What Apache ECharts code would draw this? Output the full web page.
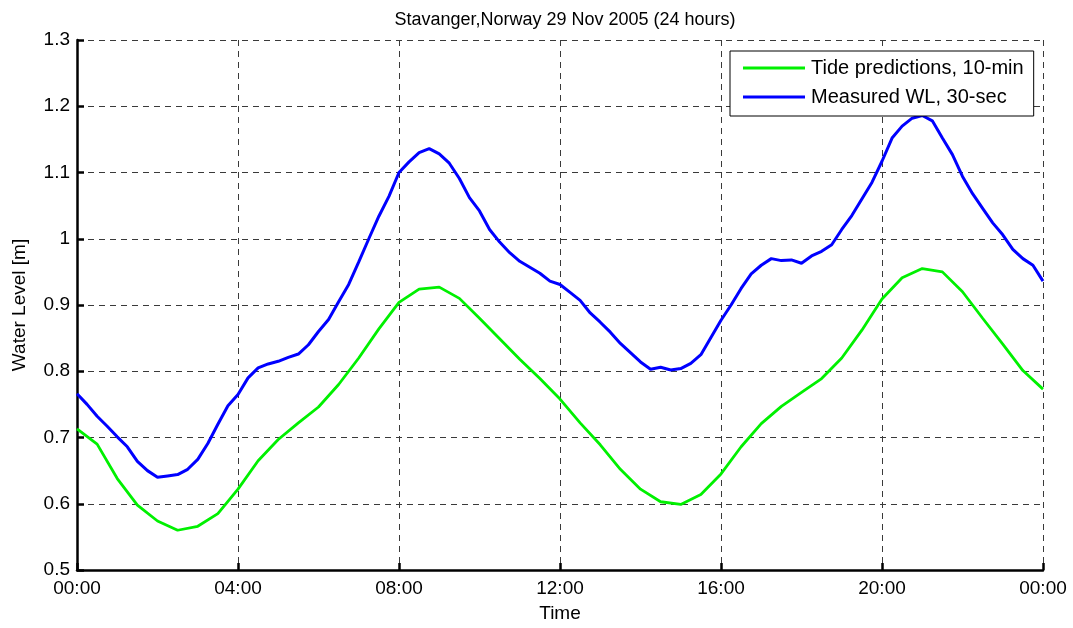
<!DOCTYPE html>
<html>
<head>
<meta charset="utf-8">
<script src="https://cdn.jsdelivr.net/npm/echarts@6/dist/echarts.min.js"></script>
<style>
  html, body { margin: 0; padding: 0; background: #fff; }
  #chart { width: 1073px; height: 628px; }
</style>
</head>
<body>
<div id="chart"></div>
<script>
// Stavanger water level, 29 Nov 2005: hours since midnight on the x axis
const timeTicks = ['00:00', '04:00', '08:00', '12:00', '16:00', '20:00', '00:00'];

// Tide predictions, sampled every 30 minutes (metres)
const tideStepHours = 0.5;
const tidePred = [
  0.713, 0.690, 0.638, 0.598, 0.574, 0.560, 0.566, 0.585, 0.622, 0.665,
  0.697, 0.722, 0.746, 0.780, 0.820, 0.864, 0.904, 0.924, 0.927, 0.910,
  0.880, 0.849, 0.818, 0.789, 0.758, 0.722, 0.689, 0.652, 0.622, 0.603,
  0.599, 0.614, 0.645, 0.686, 0.721, 0.747, 0.768, 0.789, 0.820, 0.862,
  0.909, 0.941, 0.955, 0.950, 0.920, 0.880, 0.841, 0.801, 0.773
];

// Measured water level, every 15 minutes (metres)
const measStepHours = 0.25;
const measuredWL = [
  0.766, 0.750, 0.732, 0.717, 0.701, 0.686, 0.664, 0.650, 0.640, 0.642,
  0.644, 0.652, 0.667, 0.691, 0.720, 0.748, 0.765, 0.790, 0.805, 0.811,
  0.815, 0.821, 0.826, 0.840, 0.860, 0.878, 0.905, 0.931, 0.965, 1.000,
  1.034, 1.064, 1.100, 1.116, 1.130, 1.136, 1.128, 1.114, 1.091, 1.062,
  1.042, 1.014, 0.995, 0.979, 0.966, 0.957, 0.948, 0.936, 0.931, 0.919,
  0.907, 0.888, 0.874, 0.859, 0.842, 0.828, 0.814, 0.803, 0.806, 0.802,
  0.804, 0.812, 0.825, 0.851, 0.877, 0.900, 0.925, 0.947, 0.960, 0.970,
  0.967, 0.968, 0.963, 0.974, 0.981, 0.991, 1.014, 1.035, 1.060, 1.085,
  1.117, 1.152, 1.170, 1.182, 1.186, 1.178, 1.152, 1.127, 1.094, 1.068,
  1.046, 1.024, 1.006, 0.984, 0.970, 0.960, 0.936
];

const pairs = (vals, step) => vals.map((v, i) => [i * step, v]);

const FONT = '"Liberation Sans", Arial, Helvetica, sans-serif';
const gridLine = { show: true, lineStyle: { color: '#3a3a3a', width: 1, type: [6, 5] } };

const chart = echarts.init(document.getElementById('chart'), null, { renderer: 'canvas' });
chart.setOption({
  animation: false,
  backgroundColor: '#ffffff',
  title: {
    text: 'Stavanger,Norway 29 Nov 2005 (24 hours)',
    left: 560, top: 6, textAlign: 'center',
    textStyle: { fontFamily: FONT, fontSize: 18, fontWeight: 'normal', color: '#000' }
  },
  legend: {
    left: 730, top: 51,
    orient: 'vertical',
    backgroundColor: '#fff',
    borderColor: '#000', borderWidth: 1,
    padding: [6, 10, 8, 13],
    itemWidth: 62, itemHeight: 3,
    itemGap: 7,
    icon: 'rect',
    textStyle: { fontFamily: FONT, fontSize: 20, lineHeight: 22, color: '#000', padding: [0, 0, 0, 1] },
    data: ['Tide predictions, 10-min', 'Measured WL, 30-sec']
  },
  grid: { left: 77, right: 30, top: 40, bottom: 56, containLabel: false },
  xAxis: {
    type: 'value', min: 0, max: 24, interval: 4,
    name: 'Time', nameLocation: 'middle', nameGap: 34,
    nameTextStyle: { fontFamily: FONT, fontSize: 19, color: '#000' },
    axisLine: { show: true, onZero: false, lineStyle: { color: '#000', width: 2.5 } },
    axisTick: { show: true, inside: true, length: 7, lineStyle: { color: '#000', width: 2.5 } },
    axisLabel: {
      fontFamily: FONT, fontSize: 19, color: '#000', margin: 9,
      formatter: (v) => timeTicks[Math.round(v / 4)]
    },
    splitLine: gridLine
  },
  yAxis: {
    type: 'value', min: 0.5, max: 1.3, interval: 0.1,
    name: 'Water Level [m]', nameLocation: 'middle', nameGap: 48, nameRotate: 90,
    nameTextStyle: { fontFamily: FONT, fontSize: 19, color: '#000' },
    axisLine: { show: true, onZero: false, lineStyle: { color: '#000', width: 2.5 } },
    axisTick: { show: true, inside: true, length: 7, lineStyle: { color: '#000', width: 2.5 } },
    axisLabel: {
      fontFamily: FONT, fontSize: 19, color: '#000', margin: 7,
      formatter: (v) => String(Number(v.toFixed(1)))
    },
    splitLine: gridLine
  },
  series: [
    {
      name: 'Tide predictions, 10-min', type: 'line',
      data: pairs(tidePred, tideStepHours),
      symbol: 'none', smooth: false,
      itemStyle: { color: '#00f000' },
      lineStyle: { color: '#00f000', width: 2.8 }
    },
    {
      name: 'Measured WL, 30-sec', type: 'line',
      data: pairs(measuredWL, measStepHours),
      symbol: 'none', smooth: false,
      itemStyle: { color: '#0000ff' },
      lineStyle: { color: '#0000ff', width: 3 }
    }
  ]
});
</script>
</body>
</html>
